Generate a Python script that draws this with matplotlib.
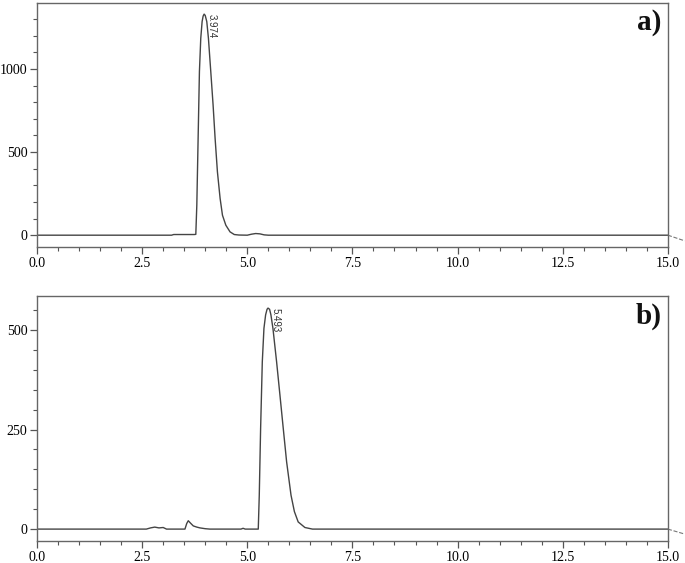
import matplotlib.pyplot as plt
from matplotlib.ticker import MultipleLocator

plt.rcParams['font.family'] = ['Liberation Serif', 'DejaVu Serif']

# chromatogram a) (time in min, signal)
time_a = [0.0, 3.2, 3.25, 3.5, 3.74, 3.776, 3.80, 3.831, 3.862, 3.894, 3.926,
          3.95, 3.974, 4.0, 4.037, 4.076, 4.132, 4.187, 4.235, 4.29, 4.354,
          4.41, 4.49, 4.59, 4.69, 4.80, 5.0, 5.1, 5.2, 5.3, 5.4, 5.5, 15.0]
signal_a = [0, 0, 4, 4, 4, 5, 181, 582, 984, 1185, 1285,
            1318, 1330, 1322, 1285, 1185, 984, 783, 582, 381, 221,
            120, 60, 20, 4, 1, 0, 6, 10, 8, 2, 0, 0]

# chromatogram b)
time_b = [0.0, 2.6, 2.7, 2.8, 2.9, 3.0, 3.08, 3.518, 3.56, 3.597, 3.65, 3.716,
          3.8, 3.875, 4.0, 4.11, 4.85, 4.9, 4.95, 5.261, 5.285, 5.317, 5.357,
          5.396, 5.436, 5.47, 5.493, 5.53, 5.562, 5.61, 5.697, 5.776, 5.855,
          5.935, 6.04, 6.12, 6.21, 6.37, 6.55, 15.0]
signal_b = [0, 0, 3, 5, 3, 4, 0, 0, 14, 21, 15, 8,
            5, 3, 1, 0, 0, 2, 0, 0, 85, 253, 420,
            504, 538, 552, 555, 552, 538, 504, 420, 337, 253,
            169, 85, 44, 18, 4, 0, 0]

peak_a = 3.974
peak_b = 5.493

fig = plt.figure(figsize=(6.85, 5.63), dpi=100)
ax1 = fig.add_axes([0.054, 0.561, 0.921, 0.434])
ax2 = fig.add_axes([0.054, 0.039, 0.921, 0.435])

line_col = '#444444'

panels = [
    (ax1, time_a, signal_a, peak_a, 1330, (-72, 1398), 500, 100, 'a)', 34),
    (ax2, time_b, signal_b, peak_b, 555, (-30, 585), 250, 50, 'b)', 12.5),
]

for ax, t, s, pk, pk_h, ylim, ymaj, ymin, lab, drift in panels:
    ax.plot(t, s, color=line_col, lw=1.0)
    ax.set_xlim(0, 15)
    ax.set_ylim(*ylim)
    ax.xaxis.set_major_locator(MultipleLocator(2.5))
    ax.xaxis.set_minor_locator(MultipleLocator(0.5))
    ax.yaxis.set_major_locator(MultipleLocator(ymaj))
    ax.yaxis.set_minor_locator(MultipleLocator(ymin))
    ax.xaxis.set_major_formatter(plt.FormatStrFormatter('%.1f'))
    ax.tick_params(which='major', length=5, width=0.9, color='#555555',
                   labelsize=10, pad=2)
    ax.tick_params(which='minor', length=3, width=0.8, color='#555555')
    for sp in ax.spines.values():
        sp.set_color('#666666')
        sp.set_linewidth(1.0)
    # baseline drift mark past the right edge
    ax.plot([15, 15.4], [0, -drift], color='#777777', lw=0.8, ls='--',
            clip_on=False)
    ax.text(pk + 0.05, pk_h, f'{pk:.3f}', rotation=-90, fontsize=7,
            family=['Liberation Sans', 'DejaVu Sans'], color='#333333',
            ha='left', va='top')
    ax.text(0.99, 0.975, lab, transform=ax.transAxes, ha='right', va='top',
            fontsize=21, fontweight='bold', color='#111111')

fig.savefig('out.png', dpi=100)
